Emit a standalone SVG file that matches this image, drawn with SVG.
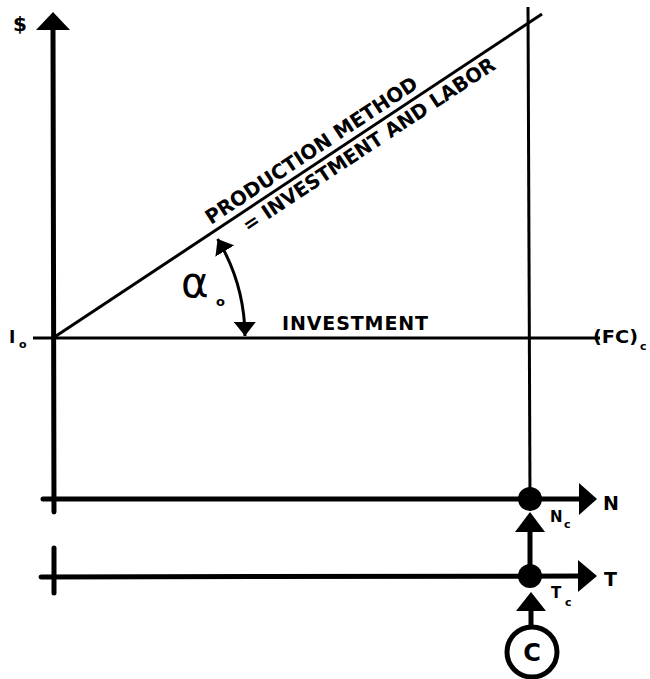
<svg xmlns="http://www.w3.org/2000/svg" width="650" height="679" viewBox="0 0 650 679">
<style>
.t{font-family:"DejaVu Sans","Liberation Sans",sans-serif;font-weight:bold;fill:#000}
.ax{stroke:#000;stroke-width:5;fill:none;stroke-linecap:round}
.ln{stroke:#000;stroke-width:3;fill:none}
</style>
<defs>
<marker id="ah" markerUnits="userSpaceOnUse" markerWidth="20" markerHeight="22" refX="14" refY="11" orient="auto-start-reverse" viewBox="0 0 20 22"><path d="M0,0 L14,11 L0,22 z" fill="#000"/></marker>
</defs>
<rect width="650" height="679" fill="#fff"/>
<g id="connectors">
<line class="ax" x1="53" y1="28" x2="54" y2="512"/>
<polygon points="53,12 36,30 70,30" fill="#000"/>
<line class="ln" x1="33" y1="338" x2="600" y2="338"/>
<line class="ln" x1="53" y1="338" x2="542" y2="14"/>
<line class="ln" x1="528" y1="7" x2="530" y2="500"/>
<line class="ax" x1="43" y1="499" x2="582" y2="499"/>
<polygon points="579,483 597,499 579,515" fill="#000"/>
<line class="ax" x1="41" y1="577" x2="582" y2="576"/>
<line class="ax" x1="54" y1="548" x2="54" y2="593"/>
<polygon points="578,560 597,576 578,592" fill="#000"/>
<line class="ax" x1="530" y1="575" x2="530" y2="530"/>
<polygon points="530,512 515,532 545,532" fill="#000"/>
<line class="ax" x1="531" y1="626" x2="531" y2="608"/>
<polygon points="531,592 516,611 546,611" fill="#000"/>
<path class="ln" d="M217.6,239.1 A192,192 0 0 1 245,336" marker-start="url(#ah)" marker-end="url(#ah)"/>
</g>
<g id="node-dots">
<circle cx="530" cy="499" r="12" fill="#000"/>
<circle cx="530" cy="576" r="12" fill="#000"/>
</g>
<g id="node-c">
<circle cx="532" cy="652" r="25" fill="none" stroke="#000" stroke-width="5"/>
<text class="t" x="532" y="661" font-size="24" text-anchor="middle">C</text>
</g>
<g id="labels">
<text class="t" x="20" y="31" font-size="20" text-anchor="middle">$</text>
<text class="t" x="9" y="343" font-size="17">I</text>
<text class="t" x="19" y="348" font-size="11">o</text>
<text class="t" x="593" y="343" font-size="17" textLength="45" lengthAdjust="spacingAndGlyphs">(FC)</text>
<text class="t" x="640" y="350" font-size="11">c</text>
<text class="t" x="282" y="330" font-size="19" textLength="146" lengthAdjust="spacing">INVESTMENT</text>
<text x="181" y="297" font-size="42" font-family="DejaVu Sans,sans-serif">α</text>
<text class="t" x="216" y="306" font-size="13">o</text>
<text class="t" x="603" y="510" font-size="19">N</text>
<text class="t" x="550" y="522" font-size="15">N</text>
<text class="t" x="564" y="528" font-size="11">c</text>
<text class="t" x="604" y="586" font-size="19">T</text>
<text class="t" x="551" y="598" font-size="15">T</text>
<text class="t" x="565" y="606" font-size="11">c</text>
<g transform="translate(53,338) rotate(-33.5)">
<text class="t" x="194" y="-7" font-size="20" textLength="250" lengthAdjust="spacingAndGlyphs">PRODUCTION METHOD</text>
<text class="t" x="221" y="20" font-size="20" textLength="298" lengthAdjust="spacingAndGlyphs">= INVESTMENT AND LABOR</text>
</g>
</g>
</svg>
